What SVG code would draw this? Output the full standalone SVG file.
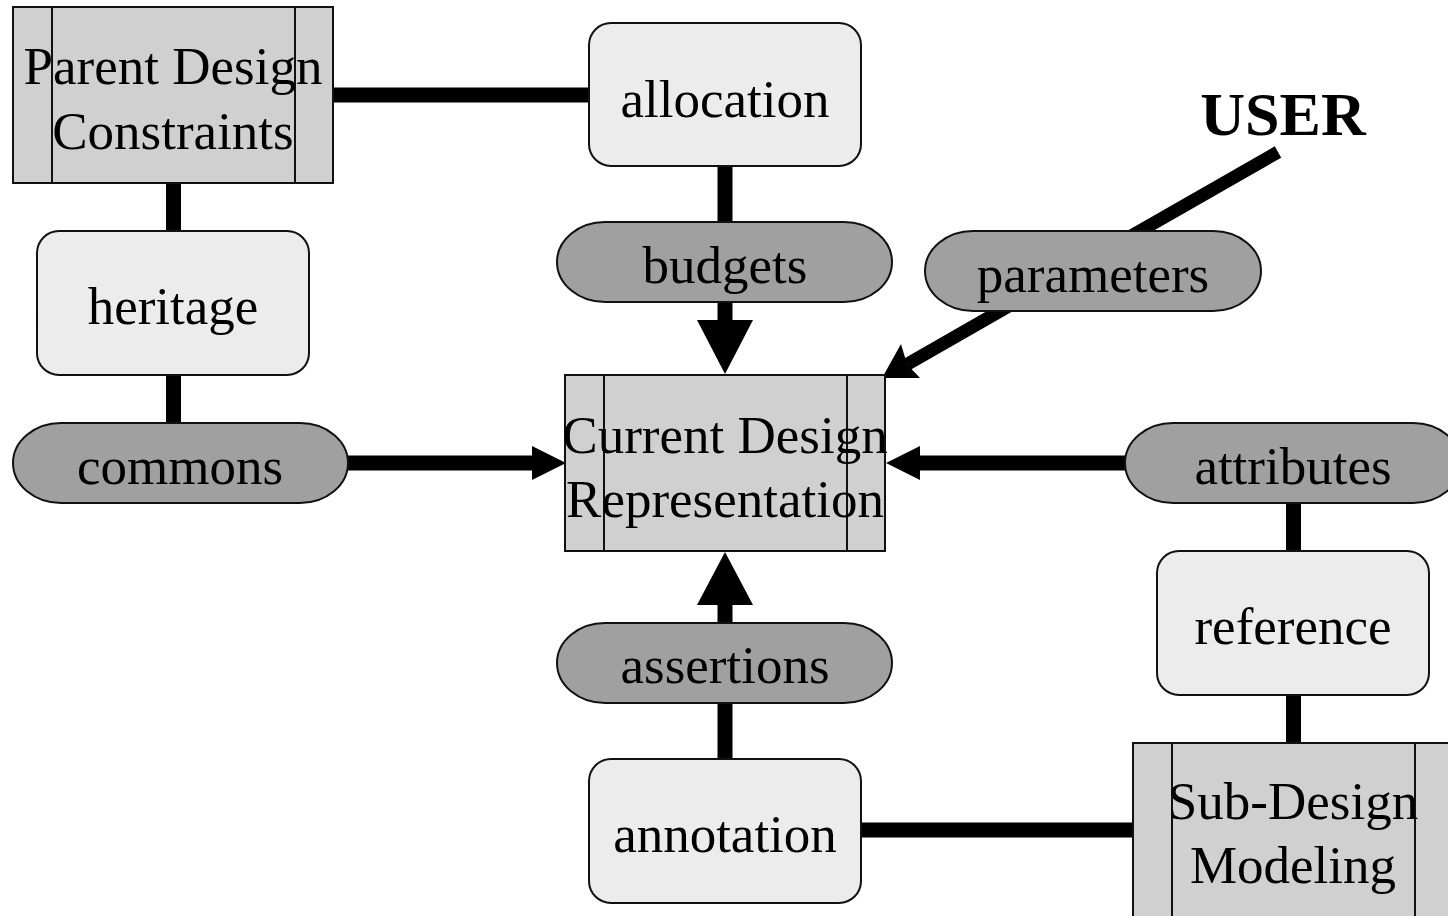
<svg xmlns="http://www.w3.org/2000/svg" width="1448" height="916" viewBox="0 0 1448 916">
<style>
text{font-family:"Liberation Serif","Times New Roman",serif;font-size:53px;fill:#000;text-anchor:middle}
.bold{font-weight:bold;font-size:62px}
.light{fill:#ececec;stroke:#111;stroke-width:2}
.grey{fill:#d0d0d0;stroke:#111;stroke-width:2}
.pill{fill:#a0a0a0;stroke:#111;stroke-width:2}
.ln{stroke:#111;stroke-width:2}
.c{stroke:#000;stroke-width:15;fill:none}
.h{fill:#000;stroke:none}
</style>
<rect width="1448" height="916" fill="#fff"/>
<g id="connectors">
<line class="c" x1="333" y1="95" x2="590" y2="95"/>
<line class="c" x1="173.5" y1="183" x2="173.5" y2="232"/>
<line class="c" x1="173.5" y1="375" x2="173.5" y2="424"/>
<line class="c" x1="348" y1="463" x2="534" y2="463"/>
<polygon class="h" points="532,446 566,463 532,480"/>
<line class="c" x1="725" y1="166" x2="725" y2="223"/>
<line class="c" x1="725" y1="302" x2="725" y2="322"/>
<polygon class="h" points="697,320 753,320 725,374"/>
<line class="c" x1="725" y1="703" x2="725" y2="760"/>
<line class="c" x1="725" y1="603" x2="725" y2="623"/>
<polygon class="h" points="697,605 753,605 725,552"/>
<line class="c" x1="918" y1="463" x2="1126" y2="463"/>
<polygon class="h" points="920,446 886,463 920,480"/>
<line class="c" x1="1293.5" y1="503" x2="1293.5" y2="552"/>
<line class="c" x1="1293.5" y1="695" x2="1293.5" y2="744"/>
<line class="c" x1="861" y1="830" x2="1134" y2="830"/>
<line stroke="#000" stroke-width="13" stroke-linecap="butt" x1="1278" y1="152" x2="907" y2="364.3"/>
<polygon class="h" points="882,378 901,344 907,364.3 920,378"/>
</g>
<g id="parent-design-constraints">
<rect class="grey" x="13" y="7" width="320" height="176"/>
<line class="ln" x1="52" y1="7" x2="52" y2="183"/>
<line class="ln" x1="295" y1="7" x2="295" y2="183"/>
<text x="173" y="84">Parent Design</text>
<text x="173" y="149">Constraints</text>
</g>
<g id="allocation">
<rect class="light" x="589" y="23" width="272" height="143" rx="22"/>
<text x="725" y="117">allocation</text>
</g>
<g id="user">
<text class="bold" x="1283" y="135">USER</text>
</g>
<g id="heritage">
<rect class="light" x="37" y="231" width="272" height="144" rx="22"/>
<text x="173" y="324">heritage</text>
</g>
<g id="budgets">
<rect class="pill" x="557" y="222" width="335" height="80" rx="48" ry="40"/>
<text x="725" y="283">budgets</text>
</g>
<g id="parameters">
<rect class="pill" x="925" y="231" width="336" height="80" rx="48" ry="40"/>
<text x="1093" y="292">parameters</text>
</g>
<g id="commons">
<rect class="pill" x="13" y="423" width="335" height="80" rx="48" ry="40"/>
<text x="180" y="484">commons</text>
</g>
<g id="current-design-representation">
<rect class="grey" x="565" y="375" width="320" height="176"/>
<line class="ln" x1="604" y1="375" x2="604" y2="551"/>
<line class="ln" x1="847" y1="375" x2="847" y2="551"/>
<text x="725" y="453">Current Design</text>
<text x="725" y="517">Representation</text>
</g>
<g id="attributes">
<rect class="pill" x="1125" y="423" width="336" height="80" rx="48" ry="40"/>
<text x="1293" y="484">attributes</text>
</g>
<g id="reference">
<rect class="light" x="1157" y="551" width="272" height="144" rx="22"/>
<text x="1293" y="644">reference</text>
</g>
<g id="assertions">
<rect class="pill" x="557" y="623" width="335" height="80" rx="48" ry="40"/>
<text x="725" y="683">assertions</text>
</g>
<g id="annotation">
<rect class="light" x="589" y="759" width="272" height="144" rx="22"/>
<text x="725" y="852">annotation</text>
</g>
<g id="sub-design-modeling">
<rect class="grey" x="1133" y="743" width="320" height="180"/>
<line class="ln" x1="1172" y1="743" x2="1172" y2="923"/>
<line class="ln" x1="1415" y1="743" x2="1415" y2="923"/>
<text x="1293" y="819">Sub-Design</text>
<text x="1293" y="883">Modeling</text>
</g>
</svg>
